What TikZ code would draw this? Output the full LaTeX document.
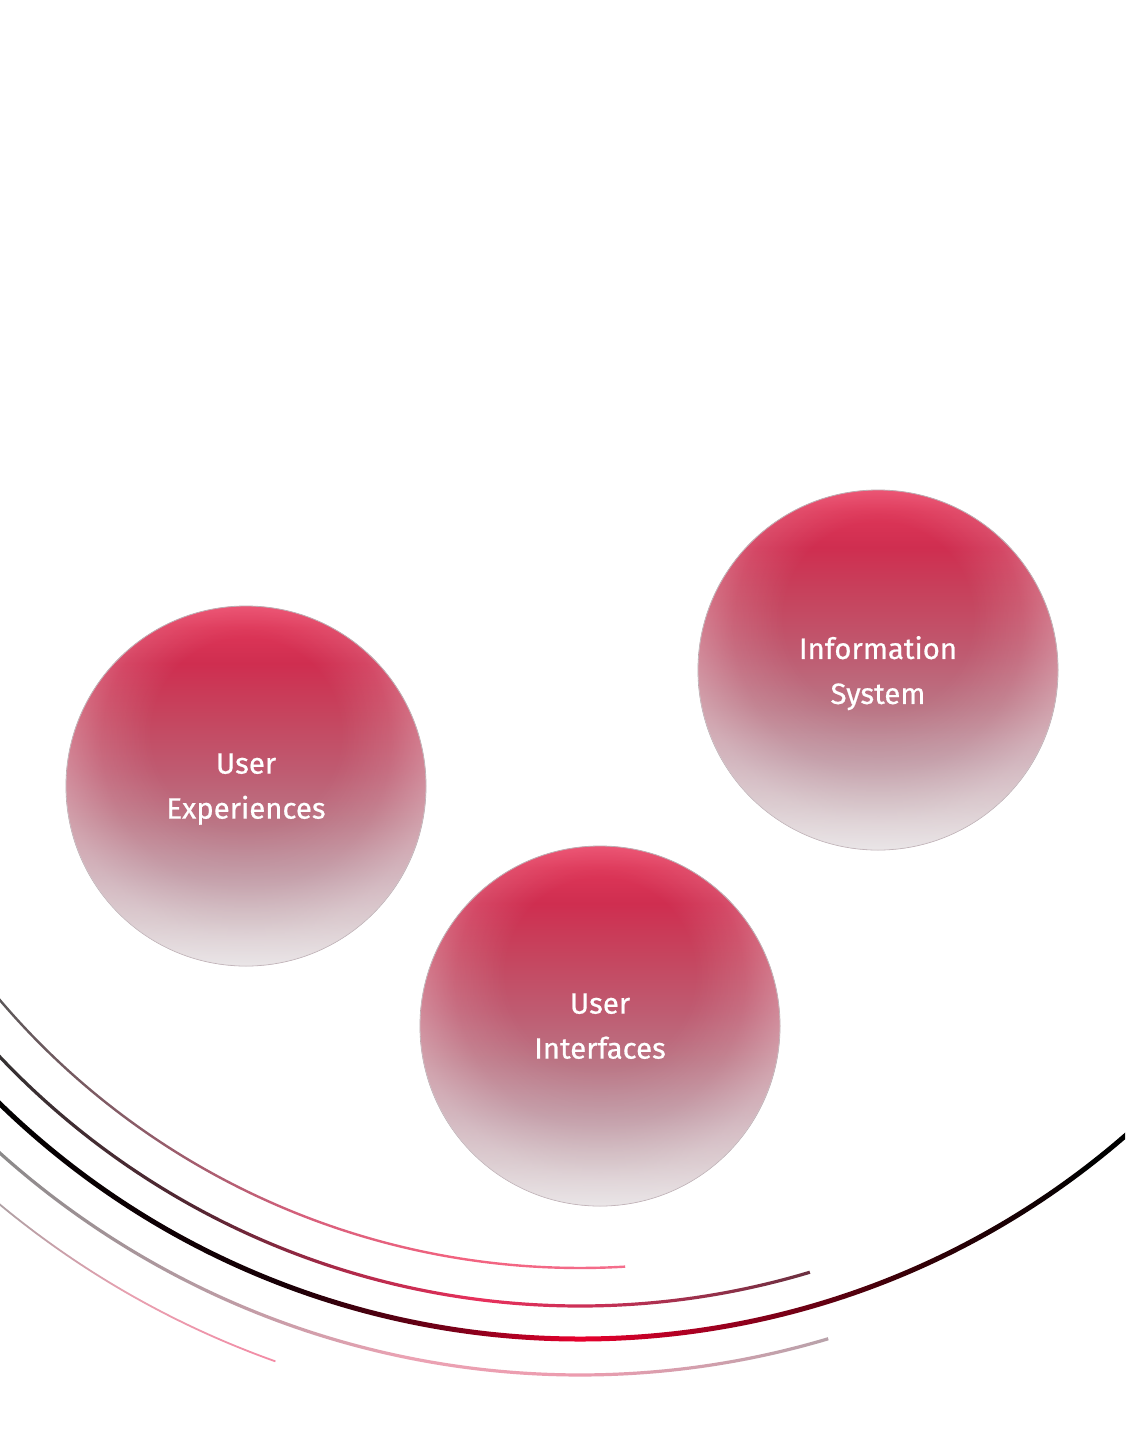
\documentclass[tikz,border=0pt]{standalone}
\usepackage{fontspec}
\setmainfont{Fira Sans}
\newfontfamily\ballfont{Fira Sans}[FakeBold=0.6]
\usetikzlibrary{fadings}

% sphere body, bottom (25bp) to top (75bp)
\pgfdeclareverticalshading{ballshade}{100bp}{color(0bp)=(rgb,255:red,222;green,215;blue,218);
  color(25bp)=(rgb,255:red,222;green,215;blue,218); color(31bp)=(rgb,255:red,203;green,180;blue,186);
  color(37.5bp)=(rgb,255:red,190;green,148;blue,160); color(45bp)=(rgb,255:red,187;green,116;blue,132);
  color(52.5bp)=(rgb,255:red,191;green,90;blue,112); color(60bp)=(rgb,255:red,198;green,68;blue,94);
  color(67bp)=(rgb,255:red,207;green,46;blue,80); color(72bp)=(rgb,255:red,222;green,54;blue,88);
  color(75bp)=(rgb,255:red,234;green,68;blue,102); color(100bp)=(rgb,255:red,234;green,68;blue,102)}
% lighter rim, least at the top
\pgfdeclareradialshading{rimmask}{\pgfpoint{0bp}{10bp}}{color(0bp)=(black); color(13bp)=(black);
  color(20bp)=(black!88!white); color(26bp)=(black!68!white); color(30bp)=(black!62!white);
  color(50bp)=(black!62!white)}
\pgfdeclarefading{rimfade}{\pgfuseshading{rimmask}}

% the five arcs, left (25bp) to right (75bp)
\pgfdeclarehorizontalshading{arcone}{100bp}{color(0bp)=(rgb,255:red,88;green,88;blue,88);
  color(25bp)=(rgb,255:red,88;green,88;blue,88); color(37bp)=(rgb,255:red,140;green,92;blue,104);
  color(50bp)=(rgb,255:red,216;green,96;blue,124); color(62bp)=(rgb,255:red,242;green,98;blue,127);
  color(75bp)=(rgb,255:red,244;green,110;blue,140); color(100bp)=(rgb,255:red,244;green,110;blue,140)}
\pgfdeclarehorizontalshading{arctwo}{100bp}{color(0bp)=(rgb,255:red,50;green,50;blue,50);
  color(25bp)=(rgb,255:red,50;green,50;blue,50); color(38bp)=(rgb,255:red,84;green,38;blue,50);
  color(47bp)=(rgb,255:red,176;green,42;blue,74); color(55bp)=(rgb,255:red,232;green,48;blue,92);
  color(62bp)=(rgb,255:red,200;green,48;blue,86); color(75bp)=(rgb,255:red,106;green,48;blue,64);
  color(100bp)=(rgb,255:red,106;green,48;blue,64)}
\pgfdeclarehorizontalshading{arcthree}{100bp}{color(0bp)=(black); color(25bp)=(black);
  color(38bp)=(rgb,255:red,24;green,0;blue,6); color(45bp)=(rgb,255:red,120;green,0;blue,24);
  color(50.4bp)=(rgb,255:red,232;green,0;blue,45); color(56bp)=(rgb,255:red,160;green,0;blue,32);
  color(64bp)=(rgb,255:red,58;green,0;blue,8); color(72bp)=(black); color(100bp)=(black)}
\pgfdeclarehorizontalshading{arcfour}{100bp}{color(0bp)=(rgb,255:red,136;green,136;blue,136);
  color(25bp)=(rgb,255:red,136;green,136;blue,136); color(37bp)=(rgb,255:red,179;green,154;blue,161);
  color(50bp)=(rgb,255:red,235;green,162;blue,179); color(60bp)=(rgb,255:red,236;green,156;blue,175);
  color(75bp)=(rgb,255:red,184;green,162;blue,170); color(100bp)=(rgb,255:red,184;green,162;blue,170)}
\pgfdeclarehorizontalshading{arcfive}{100bp}{color(0bp)=(rgb,255:red,168;green,160;blue,162);
  color(25bp)=(rgb,255:red,168;green,160;blue,162); color(50bp)=(rgb,255:red,232;green,160;blue,176);
  color(75bp)=(rgb,255:red,243;green,139;blue,165); color(100bp)=(rgb,255:red,243;green,139;blue,165)}

\definecolor{ballrim}{RGB}{184,168,174}

\begin{document}
\begin{tikzpicture}[x=0.75pt,y=-0.75pt,
  sphere/.style={circle,minimum size=270pt,inner sep=0pt,shade,shading=ballshade,
    draw=ballrim,line width=0.6pt,postaction={fill=white,path fading=rimfade},
    text=white,align=center,text depth=0pt,font=\ballfont\fontsize{22pt}{33.75pt}\selectfont}]
\useasboundingbox (0,0) rectangle (1125,1442);
\clip (0,0) rectangle (1125,1442);
\fill[white] (0,0) rectangle (1125,1442);
\coordinate (hub) at (580,506);

% arcs, all round (hub)
\shade[shading=arcone] ([shift={(hub)}]141:760.8) arc[start angle=141,end angle=86.6,radius=760.8]
  -- ([shift={(hub)}]86.6:763.2) arc[start angle=86.6,end angle=141,radius=763.2] -- cycle;
\shade[shading=arctwo] ([shift={(hub)}]138:798.4) arc[start angle=138,end angle=73.3,radius=798.4]
  -- ([shift={(hub)}]73.3:801.6) arc[start angle=73.3,end angle=138,radius=801.6] -- cycle;
\shade[shading=arcthree] ([shift={(hub)}]136:830.5) arc[start angle=136,end angle=46,radius=830.5]
  -- ([shift={(hub)}]46:835.5) arc[start angle=46,end angle=136,radius=835.5] -- cycle;
\shade[shading=arcfour] ([shift={(hub)}]133:867.4) arc[start angle=133,end angle=73.4,radius=867.4]
  -- ([shift={(hub)}]73.4:870.6) arc[start angle=73.4,end angle=133,radius=870.6] -- cycle;
\shade[shading=arcfive] ([shift={(hub)}]131:907.1) arc[start angle=131,end angle=109.6,radius=907.1]
  -- ([shift={(hub)}]109.6:908.9) arc[start angle=109.6,end angle=131,radius=908.9] -- cycle;

\node [sphere] (infosys) at (878,670) {Information\\System};
\node [sphere] (userexp) at (246,786) {User\\Experiences};
\node [sphere] (userint) at (600,1026) {User\\Interfaces};
\end{tikzpicture}
\end{document}
